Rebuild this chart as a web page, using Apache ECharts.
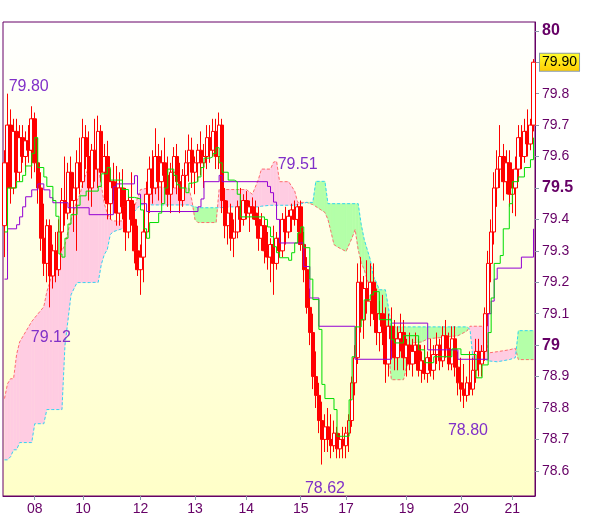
<!DOCTYPE html>
<html><head><meta charset="utf-8">
<script src="https://cdn.jsdelivr.net/npm/echarts@6/dist/echarts.min.js"></script>
<style>html,body{margin:0;padding:0;background:#fff}#c{width:600px;height:519px}</style>
</head><body><div id="c"></div>
<script>
const dayLabels = ['08','10','12','13','14','15','17','19','20','21'];
const dayIdx = [10,26,45,63,80,98,113,133,151,168];

const opens = [79.38,79.58,79.70,79.50,79.68,79.55,79.66,79.60,79.65,79.62,
79.72,79.58,79.50,79.34,79.26,79.38,79.22,79.30,79.24,79.36,
79.46,79.42,79.55,79.46,79.50,79.58,79.52,79.66,79.60,79.50,
79.62,79.56,79.68,79.55,79.60,79.45,79.52,79.50,79.42,79.50,
79.44,79.36,79.46,79.40,79.30,79.24,79.28,79.36,79.48,79.56,
79.50,79.60,79.52,79.58,79.54,79.48,79.55,79.60,79.52,79.46,
79.54,79.58,79.62,79.55,79.58,79.62,79.58,79.60,79.66,79.62,
79.68,79.60,79.70,79.46,79.38,79.42,79.34,79.36,79.44,79.40,
79.46,79.42,79.44,79.42,79.40,79.34,79.38,79.30,79.28,79.32,
79.26,79.34,79.30,79.40,79.36,79.41,79.43,79.40,79.44,79.32,
79.24,79.12,79.04,78.90,78.84,78.76,78.70,78.74,78.70,78.68,
78.72,78.67,78.70,78.68,78.72,78.76,78.88,78.96,79.20,79.08,
79.18,79.14,79.20,79.10,79.04,79.10,79.06,78.94,79.06,79.02,
78.96,79.02,79.04,78.96,79.00,78.94,78.98,79.00,78.92,78.95,
78.91,78.96,78.92,78.97,79.00,78.95,79.03,78.99,78.94,79.02,
78.93,78.88,78.86,78.84,78.88,78.86,78.92,78.98,78.94,78.98,
79.10,79.26,79.36,79.50,79.56,79.60,79.52,79.58,79.48,79.50,
79.56,79.66,79.60,79.68,79.64,79.70];
const closes = [79.58,79.70,79.50,79.68,79.55,79.66,79.60,79.65,79.62,79.72,
79.58,79.50,79.34,79.26,79.38,79.22,79.30,79.24,79.36,79.46,
79.42,79.55,79.46,79.50,79.58,79.52,79.66,79.60,79.50,79.62,
79.56,79.68,79.55,79.60,79.45,79.52,79.50,79.42,79.50,79.44,
79.36,79.46,79.40,79.30,79.24,79.28,79.36,79.48,79.56,79.50,
79.60,79.52,79.58,79.54,79.48,79.55,79.60,79.52,79.46,79.54,
79.58,79.62,79.55,79.58,79.62,79.58,79.60,79.66,79.62,79.68,
79.60,79.70,79.46,79.38,79.42,79.34,79.36,79.44,79.40,79.46,
79.42,79.44,79.42,79.40,79.34,79.38,79.30,79.28,79.32,79.26,
79.34,79.30,79.40,79.36,79.41,79.43,79.40,79.44,79.32,79.24,
79.12,79.04,78.90,78.84,78.76,78.70,78.74,78.70,78.68,78.72,
78.67,78.70,78.68,78.72,78.76,78.88,78.96,79.20,79.08,79.18,
79.14,79.20,79.10,79.04,79.10,79.06,78.94,79.06,79.02,78.96,
79.02,79.04,78.96,79.00,78.94,78.98,79.00,78.92,78.95,78.91,
78.96,78.92,78.97,79.00,78.95,79.03,78.99,78.94,79.02,78.93,
78.88,78.86,78.84,78.88,78.86,78.92,78.98,78.94,78.98,79.10,
79.26,79.36,79.50,79.56,79.60,79.52,79.58,79.48,79.50,79.56,
79.66,79.60,79.68,79.64,79.70,79.90];
const highs = [79.62,79.80,79.75,79.72,79.72,79.70,79.70,79.68,79.70,79.76,
79.74,79.66,79.55,79.45,79.40,79.40,79.32,79.36,79.40,79.50,
79.60,79.58,79.60,79.55,79.62,79.66,79.72,79.70,79.68,79.64,
79.72,79.73,79.70,79.64,79.65,79.56,79.58,79.57,79.55,79.56,
79.50,79.48,79.55,79.45,79.38,79.32,79.40,79.52,79.60,79.62,
79.69,79.64,79.62,79.66,79.60,79.58,79.63,79.64,79.58,79.56,
79.62,79.67,79.66,79.60,79.64,79.68,79.64,79.70,79.70,79.72,
79.72,79.74,79.72,79.50,79.46,79.45,79.40,79.46,79.50,79.48,
79.49,79.46,79.47,79.46,79.44,79.42,79.40,79.36,79.34,79.38,
79.36,79.40,79.42,79.44,79.43,79.45,79.46,79.45,79.46,79.36,
79.28,79.18,79.10,78.98,78.88,78.82,78.78,78.80,78.78,78.76,
78.74,78.72,78.74,78.74,78.78,78.90,79.00,79.26,79.28,79.22,
79.27,79.26,79.26,79.18,79.14,79.16,79.12,79.10,79.12,79.08,
79.06,79.10,79.08,79.02,79.04,79.02,79.04,79.02,78.98,79.00,
78.98,79.02,79.00,79.04,79.02,79.06,79.08,79.04,79.06,79.06,
78.98,78.96,78.94,78.90,78.98,78.96,79.02,79.02,79.00,79.12,
79.30,79.40,79.55,79.62,79.70,79.64,79.62,79.62,79.56,79.60,
79.70,79.70,79.72,79.75,79.72,79.91];
const lows = [79.28,79.30,79.45,79.48,79.52,79.52,79.58,79.55,79.58,79.53,
79.55,79.45,79.30,79.22,79.20,79.12,79.18,79.20,79.22,79.30,
79.38,79.40,79.42,79.36,79.30,79.48,79.50,79.56,79.46,79.44,
79.52,79.50,79.52,79.46,79.40,79.40,79.46,79.38,79.38,79.40,
79.30,79.34,79.38,79.26,79.22,79.16,79.20,79.34,79.42,79.45,
79.48,79.46,79.45,79.50,79.44,79.42,79.50,79.48,79.42,79.44,
79.50,79.52,79.50,79.48,79.52,79.54,79.50,79.56,79.58,79.60,
79.56,79.56,79.42,79.34,79.32,79.30,79.28,79.34,79.36,79.38,
79.40,79.36,79.40,79.38,79.30,79.30,79.26,79.24,79.20,79.16,
79.24,79.28,79.28,79.32,79.34,79.36,79.38,79.36,79.30,79.20,
79.10,79.00,78.86,78.80,78.72,78.62,78.66,78.66,78.64,78.66,
78.64,78.64,78.64,78.64,78.66,78.74,78.84,78.94,79.04,79.02,
79.10,79.06,79.08,79.00,78.98,79.00,78.88,78.90,78.98,78.92,
78.92,78.98,78.92,78.90,78.92,78.90,78.94,78.90,78.88,78.89,
78.88,78.90,78.89,78.94,78.92,78.93,78.96,78.92,78.92,78.90,
78.84,78.82,78.80,78.82,78.84,78.84,78.88,78.90,78.90,78.95,
79.06,79.20,79.32,79.44,79.50,79.46,79.48,79.44,79.42,79.41,
79.52,79.56,79.58,79.60,79.62,79.68];

const tenkan = [[0,79.36],[1,79.50],[4,79.52],[6,79.54],[7,79.57],[9,79.61],[10,79.66],[11,79.565],[13,79.535],[14,79.505],[16,79.46],[17,79.41],[18,79.29],[19,79.28],[20,79.34],[21,79.385],[22,79.415],[24,79.445],[25,79.475],[27,79.49],[31,79.505],[32,79.545],[34,79.565],[35,79.525],[39,79.495],[41,79.47],[43,79.465],[45,79.43],[46,79.37],[47,79.34],[48,79.39],[51,79.42],[52,79.45],[53,79.50],[54,79.56],[56,79.54],[57,79.51],[58,79.50],[60,79.485],[61,79.515],[62,79.52],[64,79.535],[65,79.565],[66,79.595],[68,79.60],[69,79.61],[70,79.628],[71,79.58],[72,79.55],[74,79.525],[76,79.52],[77,79.48],[78,79.408],[86,79.40],[87,79.376],[88,79.345],[89,79.313],[90,79.294],[91,79.278],[94,79.27],[95,79.294],[96,79.325],[97,79.357],[98,79.376],[99,79.31],[101,79.21],[102,79.145],[104,79.05],[105,78.875],[106,78.83],[109,78.795],[110,78.71],[114,78.826],[115,78.963],[116,79.058],[118,79.081],[119,79.144],[121,79.16],[122,79.17],[124,79.081],[128,79.017],[129,79.007],[132,79.03],[137,78.985],[139,78.944],[142,78.963],[148,78.988],[151,78.97],[156,78.896],[158,78.937],[160,79.04],[161,79.15],[162,79.26],[164,79.285],[165,79.37],[167,79.45],[168,79.52],[170,79.535],[172,79.565],[174,79.59],[175,79.66]];
const kijun = [[0,79.21],[1,79.37],[4,79.383],[5,79.408],[6,79.44],[7,79.472],[9,79.494],[11,79.513],[13,79.494],[15,79.469],[16,79.453],[21,79.437],[28,79.415],[36,79.504],[37,79.513],[43,79.539],[44,79.48],[45,79.45],[47,79.425],[64,79.44],[65,79.465],[66,79.52],[71,79.54],[72,79.52],[87,79.505],[88,79.485],[89,79.455],[90,79.40],[91,79.325],[99,79.25],[101,79.15],[104,79.06],[116,78.955],[128,79.07],[140,78.985],[150,78.955],[160,79.10],[161,79.14],[162,79.21],[163,79.245],[171,79.28],[175,79.37]];

const cloudIdx = [0,1,2,3,4,5, 9,10,13,14,15,16, 18,19,20,21,22,23, 24,25,26,28,31,32, 33,34,35,36,40,43, 45,50,55,61,62,63, 64,70,71,75,80,82, 84,85,88,89,90,91, 94,95,96,97,100,102, 103,106,107,108,109,110, 113,115,116,117,118,119, 121,122,123,124,126,127, 128,132,133,134,135,138, 140,150,153,154,155,159, 160,163,167,169,170,175];
const spanA = [78.83,78.877,78.893,78.893,78.97,79.01,
79.075,79.087,79.122,79.17,79.20,79.24,
79.28,79.30,79.32,79.36,79.40,79.43,
79.46,79.48,79.52,79.57,79.567,79.51,
79.45,79.42,79.40,79.395,79.395,79.44,
79.495,79.504,79.50,79.50,79.46,79.40,
79.39,79.39,79.495,79.495,79.495,79.48,
79.527,79.56,79.56,79.582,79.585,79.52,
79.52,79.505,79.49,79.454,79.454,79.447,
79.441,79.422,79.40,79.361,79.32,79.313,
79.298,79.342,79.368,79.304,79.263,79.24,
79.176,79.145,79.08,79.06,79.03,78.98,
78.89,78.89,78.93,78.955,79.007,79.01,
79.02,79.03,79.045,79.06,79.06,79.06,
78.975,78.979,78.985,78.99,78.954,78.954];
const spanB = [78.635,78.635,78.645,78.667,78.667,78.69,
78.69,78.75,78.75,78.795,78.795,78.795,
78.795,78.795,79.00,79.08,79.16,79.18,
79.199,79.199,79.199,79.199,79.20,79.256,
79.288,79.304,79.352,79.361,79.374,79.425,
79.447,79.446,79.446,79.446,79.443,79.44,
79.437,79.437,79.437,79.44,79.44,79.44,
79.44,79.442,79.445,79.445,79.445,79.445,
79.445,79.445,79.445,79.447,79.454,79.454,
79.521,79.521,79.45,79.45,79.45,79.45,
79.45,79.45,79.45,79.45,79.384,79.336,
79.272,79.22,79.20,79.176,79.176,79.12,
79.058,79.058,79.058,79.058,79.058,79.058,
79.058,79.058,79.058,79.05,78.955,78.955,
78.95,78.947,78.954,78.96,79.046,79.046];

const yTicks = [78.6,78.7,78.8,78.9,79,79.1,79.2,79.3,79.4,79.5,79.6,79.7,79.8,79.9,80];
const yLabels = [78.6,78.7,78.8,78.9,79,79.1,79.2,79.3,79.4,79.5,79.6,79.7,79.8,80];
const yMajor = [79,79.5,80];
const lastPrice = 79.90;
const notes = [['79.80',8,79.80],['79.51',97,79.51],['79.12',15,79.12],['78.62',106,78.62],['78.80',153,78.80]];
const noteOffsets = [[0,-7],[0,-20],[1,30],[0,24],[1,23]];

const N = opens.length;
const cats = [];
for (let i = 0; i < N; i++) { const k = dayIdx.indexOf(i); cats.push(k >= 0 ? dayLabels[k] : ''); }
const candles = opens.map((o, i) => [o, closes[i], lows[i], highs[i]]);
const cloudSeg = [];
for (let k = 0; k < cloudIdx.length - 1; k++) cloudSeg.push([cloudIdx[k], spanA[k], spanB[k], cloudIdx[k+1], spanA[k+1], spanB[k+1]]);

const FONT = 'Liberation Sans';
const AX = '#660066';
const chart = echarts.init(document.getElementById('c'));
chart.setOption({
  animation: false,
  backgroundColor: '#ffffff',
  grid: {left: 3, right: 65, top: 22, bottom: 23, show: true, borderColor: AX, borderWidth: 1,
    outerBoundsMode: 'none', containLabel: false,
    backgroundColor: new echarts.graphic.LinearGradient(0, 0, 0, 1, [{offset: 0, color: '#FFFFFF'}, {offset: 1, color: '#FFFFC8'}])},
  xAxis: {type: 'category', data: cats, boundaryGap: true,
    axisLine: {show: true, lineStyle: {color: AX}},
    axisTick: {show: true, alignWithLabel: true, interval: (i, v) => v !== '', length: 4, lineStyle: {color: '#8899AA'}},
    axisLabel: {interval: (i, v) => v !== '', color: AX, fontSize: 14, fontFamily: FONT, margin: 6},
    splitLine: {show: false}},
  yAxis: {type: 'value', position: 'right', min: 78.52, max: 80.028,
    axisLine: {show: true, lineStyle: {color: AX}},
    axisTick: {show: true, customValues: yTicks, length: 4, lineStyle: {color: '#8899AA'}},
    axisLabel: {customValues: yLabels, margin: 7,
      formatter: v => (yMajor.some(m => Math.abs(m - v) < 1e-6) ? '{b|' : '{n|') + String(+(+v).toFixed(1)) + '}',
      rich: {b: {fontSize: 16, fontWeight: 'bold', color: AX, fontFamily: FONT},
             n: {fontSize: 14, color: AX, fontFamily: FONT}}},
    splitLine: {show: false}},
  series: [
    {type: 'custom', z: 1, silent: true, clip: true, data: cloudSeg,
      encode: {x: [0, 3], y: [1, 2, 4, 5]},
      renderItem: function (params, api) {
        const x0 = api.value(0), a0 = api.value(1), b0 = api.value(2), x1 = api.value(3), a1 = api.value(4), b1 = api.value(5);
        const A0 = api.coord([x0, a0]), B0 = api.coord([x0, b0]), A1 = api.coord([x1, a1]), B1 = api.coord([x1, b1]);
        const d0 = a0 - b0, d1 = a1 - b1;
        const children = [];
        const poly = (pts, up) => children.push({type: 'polygon', shape: {points: pts},
          style: {fill: up ? '#FFCCE2' : '#B4FFA8', stroke: up ? '#FFCCE2' : '#B4FFA8', lineWidth: 0.5}});
        if (d0 * d1 < 0) {
          const t = d0 / (d0 - d1);
          const X = [A0[0] + (A1[0] - A0[0]) * t, A0[1] + (A1[1] - A0[1]) * t];
          poly([A0, X, B0], d0 > 0); poly([X, A1, B1], d1 > 0);
        } else poly([A0, A1, B1, B0], (d0 + d1) >= 0);
        return {type: 'group', children};
      }},
    {type: 'line', z: 2, silent: true, symbol: 'none', data: cloudIdx.map((x, k) => [x, spanA[k]]),
      lineStyle: {color: '#FF6F6F', width: 1, type: [3, 2]}},
    {type: 'line', z: 2, silent: true, symbol: 'none', data: cloudIdx.map((x, k) => [x, spanB[k]]),
      lineStyle: {color: '#33D6F0', width: 1, type: [3, 2]}},
    {type: 'candlestick', z: 3, data: candles, barWidth: 4,
      itemStyle: {color: '#FFFFFF', color0: '#FF0000', borderColor: '#FF0000', borderColor0: '#FF0000', borderWidth: 1},
      markLine: {silent: true, symbol: ['none', 'none'], lineStyle: {color: 'rgba(0,0,0,0)', width: 0},
        label: {show: true, position: 'end', distance: 5, formatter: lastPrice.toFixed(2), color: '#000', fontSize: 14, fontFamily: FONT,
          backgroundColor: new echarts.graphic.LinearGradient(0, 0, 0, 1, [{offset: 0, color: '#FFFF30'}, {offset: 1, color: '#FFCC00'}]),
          borderColor: '#8899AA', borderWidth: 1, padding: [2, 2, 1, 2]},
        data: [{yAxis: lastPrice}]},
      markPoint: {silent: true, symbol: 'circle', symbolSize: 1, itemStyle: {color: 'rgba(0,0,0,0)'},
        label: {show: true, position: 'inside', color: '#8030C8', fontSize: 16, fontFamily: FONT, formatter: p => p.name},
        data: notes.map((n, k) => ({name: n[0], coord: [n[1], n[2]], label: {offset: noteOffsets[k]}}))}},
    {type: 'line', z: 4, silent: true, symbol: 'none', step: 'end', data: kijun, lineStyle: {color: '#9400D3', width: 1}},
    {type: 'line', z: 5, silent: true, symbol: 'none', step: 'end', data: tenkan, lineStyle: {color: '#00DD00', width: 1}}
  ]
});
</script></body></html>
